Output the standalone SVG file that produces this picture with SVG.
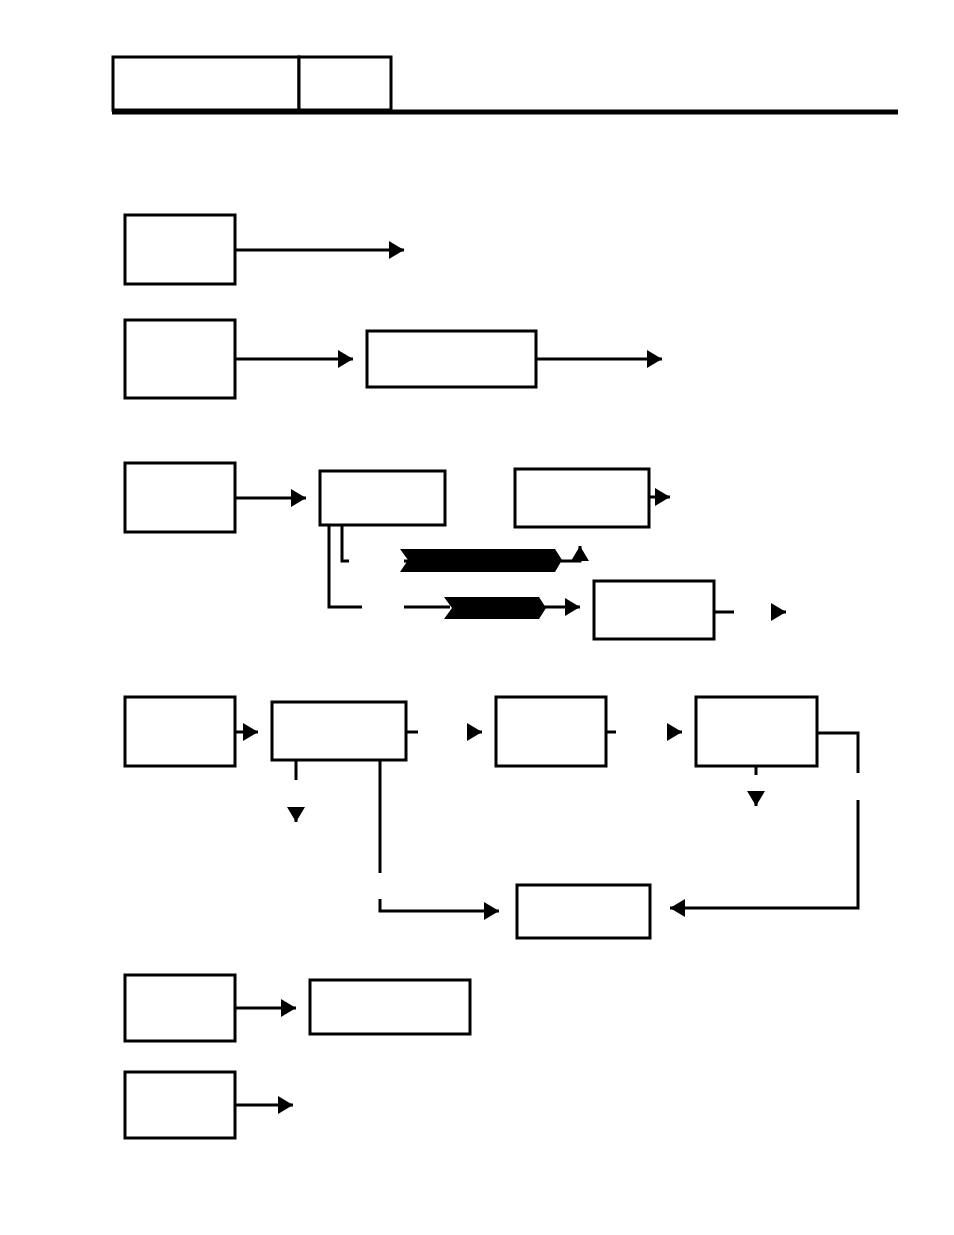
<svg xmlns="http://www.w3.org/2000/svg" width="954" height="1235" viewBox="0 0 954 1235">
<style>
.b{fill:#fff;stroke:#000;stroke-width:3}
.c{fill:none;stroke:#000;stroke-width:3}
.a{marker-end:url(#ar)}
</style>
<defs><marker id="ar" markerWidth="6" markerHeight="6" refX="5" refY="3" orient="auto" markerUnits="strokeWidth"><path d="M0,0L5,3L0,6z" fill="#000"/></marker></defs>
<rect width="954" height="1235" fill="#fff"/>
<g id="header"><rect class="b" x="113" y="57" width="186" height="53" stroke-width="2"/><rect class="b" x="299" y="57" width="92" height="53" stroke-width="2"/><line x1="112" y1="112" x2="898" y2="112" stroke="#000" stroke-width="5"/></g>
<g id="a1"><rect class="b" x="125" y="215" width="110" height="69"/></g>
<g id="a2"><rect class="b" x="125" y="320" width="110" height="78"/></g>
<g id="b2"><rect class="b" x="367" y="331" width="169" height="56"/></g>
<g id="a3"><rect class="b" x="125" y="463" width="110" height="69"/></g>
<g id="b3a"><rect class="b" x="320" y="471" width="125" height="54"/></g>
<g id="b3b"><rect class="b" x="515" y="469" width="134" height="58"/></g>
<g id="b3c"><rect class="b" x="594" y="581" width="120" height="58"/></g>
<g id="p1"><polygon points="400,549 555,549 562,560 555,572 400,572 408,560" fill="#000"/></g>
<g id="p2"><polygon points="444,597 539,597 546,608 539,619 444,619 452,608" fill="#000"/></g>
<g id="a4"><rect class="b" x="125" y="697" width="110" height="69"/></g>
<g id="b4a"><rect class="b" x="272" y="702" width="134" height="58"/></g>
<g id="b4b"><rect class="b" x="496" y="697" width="110" height="69"/></g>
<g id="b4c"><rect class="b" x="696" y="697" width="121" height="69"/></g>
<g id="b4d"><rect class="b" x="517" y="885" width="133" height="53"/></g>
<g id="a5"><rect class="b" x="125" y="975" width="110" height="66"/></g>
<g id="b5"><rect class="b" x="310" y="980" width="160" height="54"/></g>
<g id="a6"><rect class="b" x="125" y="1072" width="110" height="66"/></g>
<g id="connectors">
<path class="c a" d="M235,250H404"/>
<path class="c a" d="M235,359H353"/>
<path class="c a" d="M536,359H662"/>
<path class="c a" d="M235,498H306"/>
<path class="c a" d="M649,497H670"/>
<path class="c" d="M342,525V561H349"/>
<path class="c" d="M404,561H420"/>
<path class="c a" d="M555,561H580V546"/>
<path class="c" d="M329,525V607H362"/>
<path class="c" d="M404,607H450"/>
<path class="c a" d="M540,607H580"/>
<path class="c" d="M714,612H734"/>
<path class="c a" d="M776,612H786"/>
<path class="c a" d="M235,732H258"/>
<path class="c" d="M406,732H418"/>
<path class="c a" d="M469,732H482"/>
<path class="c" d="M606,732H616"/>
<path class="c a" d="M671,732H682"/>
<path class="c" d="M296,760V780"/>
<path class="c a" d="M296,807V822"/>
<path class="c" d="M380,760V873"/>
<path class="c a" d="M380,899V911H499"/>
<path class="c" d="M817,733H858V773"/>
<path class="c a" d="M858,800V908H670"/>
<path class="c" d="M756,766V775"/>
<path class="c a" d="M756,801V806"/>
<path class="c a" d="M235,1008H296"/>
<path class="c a" d="M235,1105H293"/>
</g>
</svg>
